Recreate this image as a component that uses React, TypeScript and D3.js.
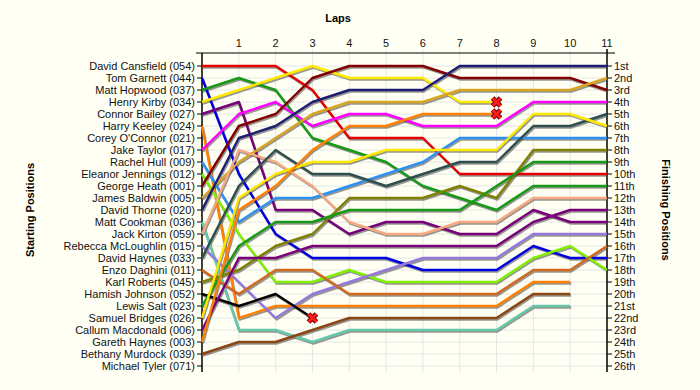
import React from 'react';
import * as d3 from 'd3';

// grid order, row 1 = pole
const startingNames = [
    'David Cansfield (054)', 'Tom Garnett (044)', 'Matt Hopwood (037)', 'Henry Kirby (034)',
    'Connor Bailey (027)', 'Harry Keeley (024)', "Corey O'Connor (021)", 'Jake Taylor (017)',
    'Rachel Hull (009)', 'Eleanor Jennings (012)', 'George Heath (001)', 'James Baldwin (005)',
    'David Thorne (020)', 'Matt Cookman (036)', 'Jack Kirton (059)', 'Rebecca McLoughlin (015)',
    'David Haynes (033)', 'Enzo Daghini (011)', 'Karl Roberts (045)', 'Hamish Johnson (052)',
    'Lewis Salt (023)', 'Samuel Bridges (026)', 'Callum Macdonald (006)', 'Gareth Haynes (003)',
    'Bethany Murdock (039)', 'Michael Tyler (071)',
];

const finishLabels = [
    '1st', '2nd', '3rd', '4th', '5th', '6th', '7th', '8th', '9th', '10th', '11th', '12th', '13th',
    '14th', '15th', '16th', '17th', '18th', '19th', '20th', '21st', '22nd', '23rd', '24th', '25th', '26th',
];

const lapLabels = [1, 2, 3, 4, 5, 6, 7, 8, 9, 10, 11];

// position at lap 0, 1, 2 ...
const cansfield = [1, 1, 1, 3, 7, 7, 7, 10, 10, 10, 10, 10];
const garnett = [2, 10, 15, 17, 17, 17, 18, 18, 18, 16, 17, 17];
const hopwood = [3, 2, 3, 7, 8, 9, 11, 12, 13, 11, 11, 11];
const kirby = [4, 3, 2, 1, 2, 2, 2, 4, 4];
const bailey = [5, 4, 13, 13, 15, 14, 14, 15, 15, 13, 14, 14];
const keeley = [6, 22, 21, 21, 21, 21, 21, 21, 21, 19, 19];
const taylor = [8, 5, 4, 6, 5, 5, 6, 6, 6, 4, 4, 4];
const hull = [9, 14, 12, 12, 11, 10, 9, 7, 7, 7, 7, 7];
const jennings = [10, 15, 19, 19, 18, 19, 19, 19, 19, 17, 16, 18];
const heath = [11, 6, 5, 2, 1, 1, 1, 2, 2, 2, 2, 3];
const baldwin = [12, 9, 7, 5, 4, 4, 4, 3, 3, 3, 3, 2];
const thorne = [13, 7, 6, 4, 3, 3, 3, 1, 1, 1, 1, 1];
const cookman = [14, 23, 23, 24, 23, 23, 23, 23, 23, 21, 21];
const kirton = [15, 8, 9, 11, 14, 15, 15, 14, 14, 12, 12, 12];
const mcloughlin = [16, 19, 22, 20, 19, 18, 17, 17, 17, 15, 15, 15];
const haynesD = [17, 11, 8, 10, 10, 11, 10, 9, 9, 6, 6, 5];
const daghini = [18, 20, 18, 18, 20, 20, 20, 20, 20, 18, 18, 16];
const roberts = [19, 18, 16, 15, 12, 12, 12, 11, 12, 8, 8, 8];
const johnson = [20, 21, 20, 22];
const salt = [21, 16, 14, 14, 13, 13, 13, 13, 11, 9, 9, 9];
const bridges = [22, 12, 10, 9, 9, 8, 8, 8, 8, 5, 5, 6];
const macdonald = [23, 17, 17, 16, 16, 16, 16, 16, 16, 14, 13, 13];
const haynesG = [24, 13, 11, 8, 6, 6, 5, 5, 5];
const murdock = [25, 24, 24, 23, 22, 22, 22, 22, 22, 20, 20];

const driverLaps = [
    cansfield, garnett, hopwood, kirby, bailey, keeley, taylor, hull, jennings, heath, baldwin, thorne,
    cookman, kirton, mcloughlin, haynesD, daghini, roberts, johnson, salt, bridges, macdonald, haynesG, murdock,
];
const driverColors = [
    '#e80000', '#0000e0', '#169a16', '#ffe800', '#780078', '#ff8000', '#ff00ff', '#2e90f0',
    '#80f000', '#820000', '#daa520', '#1e1e70', '#66c8a8', '#f8a880', '#9678dc', '#2f4f4f',
    '#d2691e', '#808000', '#000000', '#169a16', '#ffe800', '#780078', '#ff8000', '#8b4513',
];
// these stopped with a cross
const retired = [kirby, johnson, haynesG];

const W = 700;
const H = 390;
const left = 202;
const right = 607;
const axisTop = 53;
const axisBottom = 372;

const App: React.FC = () => {
    const x = d3.scaleLinear().domain([0, 11]).range([left, right]);
    const y = d3.scaleLinear().domain([1, 26]).range([66, 366]);
    const line = d3.line<number>().x((_, i) => x(i)).y(d => y(d));
    const rows = d3.range(1, 27);
    const font = 'Arial, "Liberation Sans", sans-serif';

    return (
        <svg width={W} height={H} style={{ position: 'absolute', left: 0, top: 0, background: '#fffff4' }}>
            <rect width={W} height={H} fill="#fffff4" />

            {/* grid */}
            {rows.map(r => (
                <line key={'h' + r} x1={left} x2={right} y1={y(r)} y2={y(r)} stroke="#e6e6e6" />
            ))}
            {lapLabels.slice(0, 10).map(l => (
                <line key={'v' + l} x1={x(l)} x2={x(l)} y1={axisTop - 4} y2={axisBottom} stroke="#e6e6e6" />
            ))}

            {/* top axis */}
            <line x1={196} x2={615} y1={axisTop} y2={axisTop} stroke="#000" strokeWidth={1.2} />
            <line x1={left} x2={left} y1={axisTop} y2={axisBottom} stroke="#000" strokeWidth={1.5} />
            <line x1={right} x2={right} y1={axisTop - 4} y2={axisBottom} stroke="#000" strokeWidth={1.5} />
            {lapLabels.map(l => (
                <text key={'l' + l} x={x(l)} y={47} textAnchor="middle" fontFamily={font} fontSize={11} fill="#111">
                    {l}
                </text>
            ))}
            <text x={338} y={22} textAnchor="middle" fontFamily={font} fontSize={11} fontWeight="bold">Laps</text>

            {/* left / right ticks */}
            {rows.map(r => (
                <g key={'t' + r}>
                    <line x1={left - 5} x2={left} y1={y(r)} y2={y(r)} stroke="#000" />
                    <line x1={right} x2={right + 5} y1={y(r)} y2={y(r)} stroke="#000" />
                    <text x={left - 7} y={y(r) + 4} textAnchor="end" fontFamily={font} fontSize={11} fill="#111">
                        {startingNames[r - 1]}
                    </text>
                    <text x={right + 7} y={y(r) + 4} fontFamily={font} fontSize={11} fill="#111">
                        {finishLabels[r - 1]}
                    </text>
                </g>
            ))}

            <text transform="translate(34,210) rotate(-90)" textAnchor="middle" fontFamily={font} fontSize={11} fontWeight="bold">
                Starting Positions
            </text>
            <text transform="translate(662,210) rotate(90)" textAnchor="middle" fontFamily={font} fontSize={11} fontWeight="bold">
                Finishing Positions
            </text>

            {/* shadows then lines */}
            <g transform="translate(1,1.5)">
                {driverLaps.map((d, i) => (
                    <path key={'s' + i} d={line(d) || ''} fill="none" stroke="#444" strokeOpacity={0.55} strokeWidth={2.4} strokeLinejoin="round" />
                ))}
            </g>
            {driverLaps.map((d, i) => (
                <path key={'p' + i} d={line(d) || ''} fill="none" stroke={driverColors[i]} strokeWidth={2.4} strokeLinejoin="round" />
            ))}

            {retired.map((d, i) => {
                const cx = x(d.length - 1);
                const cy = y(d[d.length - 1]);
                const s = 4;
                const p = `M${cx - s},${cy - s}L${cx + s},${cy + s}M${cx + s},${cy - s}L${cx - s},${cy + s}`;
                return (
                    <g key={'x' + i}>
                        <path d={p} stroke="#600" strokeWidth={5} />
                        <path d={p} stroke="#ff1a1a" strokeWidth={3} />
                    </g>
                );
            })}
        </svg>
    );
};

export default App;
